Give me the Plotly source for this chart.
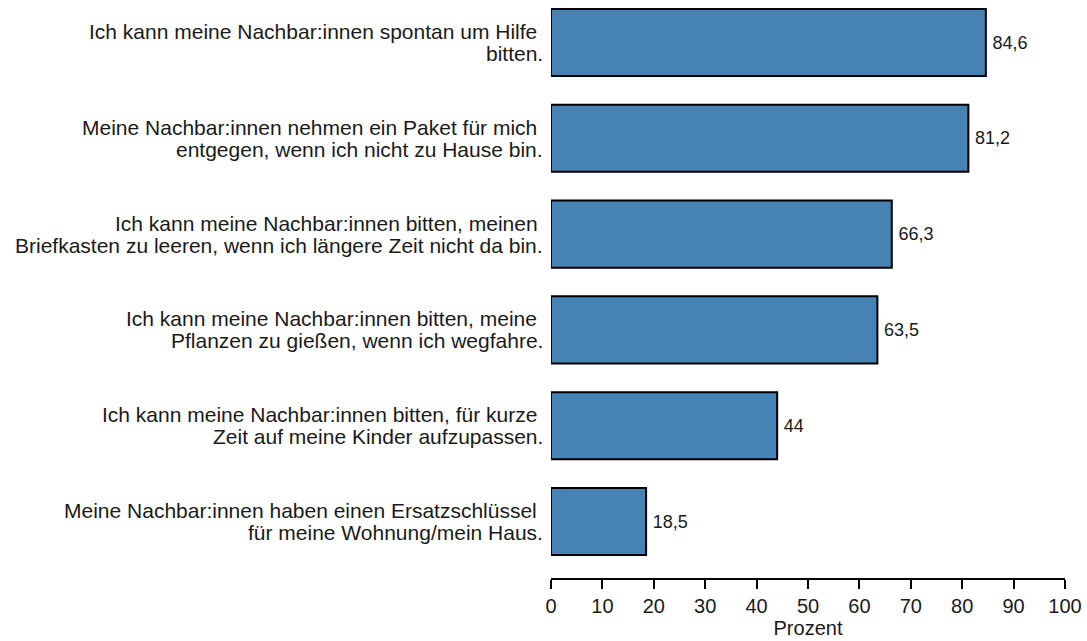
import plotly.graph_objects as go

categories = [
    "Ich kann meine Nachbar:innen spontan um Hilfe <br>bitten.",
    "Meine Nachbar:innen nehmen ein Paket für mich <br>entgegen, wenn ich nicht zu Hause bin.",
    "Ich kann meine Nachbar:innen bitten, meinen <br>Briefkasten zu leeren, wenn ich längere Zeit nicht da bin.",
    "Ich kann meine Nachbar:innen bitten, meine <br>Pflanzen zu gießen, wenn ich wegfahre.",
    "Ich kann meine Nachbar:innen bitten, für kurze <br>Zeit auf meine Kinder aufzupassen.",
    "Meine Nachbar:innen haben einen Ersatzschlüssel <br>für meine Wohnung/mein Haus.",
]
values = [84.6, 81.2, 66.3, 63.5, 44, 18.5]
x_ticks = list(range(0, 101, 10))
x_title = "Prozent"

FONT = "Liberation Sans, Arial, sans-serif"
TXT = "#1a1a1a"

fig = go.Figure(
    go.Bar(
        x=values,
        y=categories,
        orientation="h",
        width=0.70,
        marker=dict(color="#4682B4", line=dict(color="black", width=2)),
        text=values,
        texttemplate="\u2009%{x}",
        textposition="outside",
        cliponaxis=False,
        textfont=dict(family=FONT, size=18, color=TXT),
        hoverinfo="skip",
    )
)

# category labels, one annotation per line (tighter line spacing than tick labels)
annotations = []
for cat in categories:
    lines = cat.split("<br>")
    n = len(lines)
    for i, line in enumerate(lines):
        annotations.append(
            dict(
                xref="paper",
                yref="y",
                x=0,
                y=cat,
                text=line,
                showarrow=False,
                xanchor="right",
                yanchor="middle",
                xshift=-6,
                yshift=(n - 1) / 2 * 22 - i * 22,
                font=dict(family=FONT, size=21, color=TXT),
            )
        )

fig.update_layout(
    width=1087,
    height=641,
    margin=dict(l=551, r=22, t=0, b=63),
    plot_bgcolor="white",
    paper_bgcolor="white",
    separators=",.",
    showlegend=False,
    font=dict(family=FONT, size=20, color=TXT),
    annotations=annotations,
    xaxis=dict(
        range=[0, 100],
        tickvals=x_ticks,
        ticks="outside",
        ticklen=9,
        tickwidth=2,
        tickcolor="black",
        showline=True,
        linecolor="black",
        linewidth=2,
        showgrid=False,
        zeroline=False,
        tickfont=dict(family=FONT, size=20, color=TXT),
        title=dict(text=x_title, font=dict(family=FONT, size=20, color=TXT), standoff=0),
    ),
    yaxis=dict(
        categoryorder="array",
        categoryarray=categories,
        range=[5.5898, -0.4436],
        showline=False,
        showgrid=False,
        zeroline=False,
        ticks="",
        showticklabels=False,
    ),
)

fig.write_html(
    "out.html",
    config={"displayModeBar": False},
    post_script="document.body.style.margin='0px';",
)
